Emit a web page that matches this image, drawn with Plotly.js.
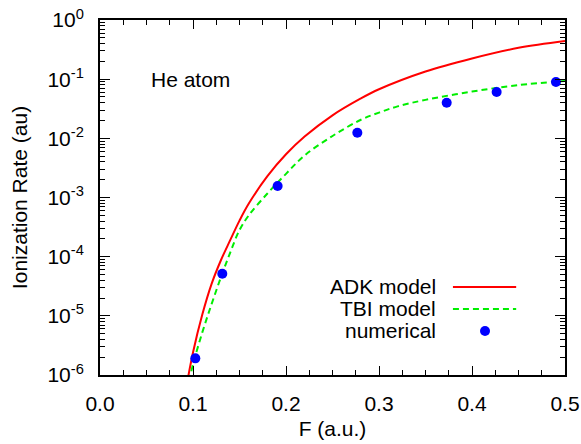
<!DOCTYPE html>
<html>
<head>
<meta charset="utf-8">
<script src="https://cdn.plot.ly/plotly-3.0.1.min.js"></script>
<style>html,body{margin:0;padding:0;background:#fff;}#chart{width:581px;height:444px;}</style>
</head>
<body>
<div id="chart"></div>
<script>
// ADK model curve
const adkF = [0.094, 0.10, 0.11, 0.12, 0.13, 0.14, 0.15, 0.16, 0.18, 0.20, 0.22, 0.25, 0.28, 0.30, 0.35, 0.40, 0.45, 0.50];
const adkRate = [7.9e-7, 2.4e-6, 1.05e-5, 3.47e-5, 8.7e-5, 1.9e-4, 4.07e-4, 7.9e-4, 2.29e-3, 5.37e-3, 1.07e-2, 2.45e-2, 4.68e-2, 6.76e-2, 0.135, 0.224, 0.339, 0.442];
// TBI model curve
const tbiF = [0.096, 0.10, 0.11, 0.12, 0.13, 0.14, 0.15, 0.16, 0.18, 0.20, 0.22, 0.25, 0.28, 0.30, 0.32, 0.35, 0.40, 0.45, 0.50];
const tbiRate = [7.9e-7, 1.51e-6, 5.25e-6, 1.58e-5, 4.47e-5, 1.17e-4, 2.82e-4, 5.0e-4, 1.17e-3, 2.51e-3, 5.13e-3, 1.096e-2, 2.04e-2, 2.72e-2, 3.47e-2, 4.47e-2, 6.17e-2, 7.94e-2, 9.33e-2];
// numerical results
const numF = [0.1025, 0.1315, 0.191, 0.2767, 0.3728, 0.4265, 0.4903];
const numRate = [1.91e-6, 5.15e-5, 1.56e-3, 1.245e-2, 4.0e-2, 6.07e-2, 8.95e-2];

const seriesNames = ["ADK model", "TBI model", "numerical"];
const yTickVals = [1e-6, 1e-5, 1e-4, 1e-3, 1e-2, 1e-1, 1e0];
const yTickText = ["10<sup>-6</sup>", "10<sup>-5</sup>", "10<sup>-4</sup>", "10<sup>-3</sup>", "10<sup>-2</sup>", "10<sup>-1</sup>", "10<sup>0</sup>"];
const xTickVals = [0.0, 0.1, 0.2, 0.3, 0.4, 0.5];
const xTickText = ["0.0", "0.1", "0.2", "0.3", "0.4", "0.5"];

const FONT = "Liberation Sans, Arial, Helvetica, sans-serif";

const traces = [
  {x: adkF, y: adkRate, type: "scatter", mode: "lines", name: seriesNames[0],
   line: {color: "#ff0000", width: 2, shape: "spline"}, cliponaxis: true},
  {x: tbiF, y: tbiRate, type: "scatter", mode: "lines", name: seriesNames[1],
   line: {color: "#00ee00", width: 2, dash: "6px,4px", shape: "spline"}, cliponaxis: true},
  {x: numF, y: numRate, type: "scatter", mode: "markers", name: seriesNames[2],
   marker: {color: "#0000ff", size: 10}, cliponaxis: false}
];

// manual legend (text left of sample, as in the reference)
const legY = [0.248, 0.186, 0.124];
const legTextX = 0.727, legL0 = 0.759, legL1 = 0.895, legM = 0.828;
const annotations = [
  {x: 0.105, y: 0.832, xref: "paper", yref: "paper", text: "He atom", showarrow: false,
   xanchor: "left", yanchor: "middle", font: {family: FONT, size: 21, color: "#000"}}
];
seriesNames.forEach((n, i) => annotations.push({
  x: legTextX, y: legY[i], xref: "paper", yref: "paper", text: n, showarrow: false,
  xanchor: "right", yanchor: "middle", font: {family: FONT, size: 21, color: "#000"}
}));
const shapes = [
  {type: "line", xref: "paper", yref: "paper", x0: legL0, x1: legL1, y0: legY[0], y1: legY[0], line: {color: "#ff0000", width: 2}},
  {type: "line", xref: "paper", yref: "paper", x0: legL0, x1: legL1, y0: legY[1], y1: legY[1], line: {color: "#00ee00", width: 2, dash: "6px,4px"}},
  {type: "circle", xref: "paper", yref: "paper", xsizemode: "pixel", ysizemode: "pixel",
   xanchor: legM, yanchor: legY[2], x0: -5, x1: 5, y0: -5, y1: 5, fillcolor: "#0000ff", line: {width: 0}}
];

const layout = {
  width: 581, height: 444,
  margin: {l: 100, r: 16, t: 20, b: 69},
  paper_bgcolor: "#fff", plot_bgcolor: "#fff",
  showlegend: false,
  font: {family: FONT, size: 21, color: "#000"},
  xaxis: {
    range: [0, 0.5], tickvals: xTickVals, ticktext: xTickText,
    ticks: "inside", ticklen: 9, tickwidth: 1, tickcolor: "#000",
    showline: true, linewidth: 2, linecolor: "#000", mirror: "allticks",
    showgrid: false, zeroline: false, ticklabelstandoff: 9,
    minor: {dtick: 0.025, ticks: "inside", ticklen: 5, tickwidth: 1, tickcolor: "#000", showgrid: false},
    title: {text: "F (a.u.)", font: {family: FONT, size: 21}, standoff: 7}
  },
  yaxis: {
    type: "log", range: [-6, 0], tickvals: yTickVals, ticktext: yTickText,
    ticks: "inside", ticklen: 10, tickwidth: 1, tickcolor: "#000",
    showline: true, linewidth: 2, linecolor: "#000", mirror: "allticks",
    showgrid: false, zeroline: false, ticklabelstandoff: 10,
    minor: {dtick: "D1", ticks: "inside", ticklen: 5, tickwidth: 1, tickcolor: "#000", showgrid: false},
    title: {text: "Ionization Rate (au)", font: {family: FONT, size: 21}, standoff: 14}
  },
  annotations: annotations,
  shapes: shapes
};

Plotly.newPlot("chart", traces, layout, {staticPlot: true, displayModeBar: false});
</script>
</body>
</html>
